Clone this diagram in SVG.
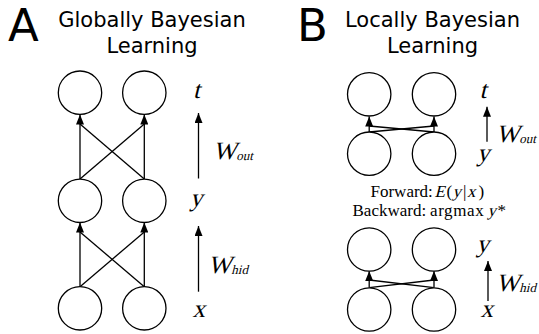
<svg xmlns="http://www.w3.org/2000/svg" width="539" height="334" viewBox="0 0 539 334">
<defs>
<marker id="ah" markerWidth="10" markerHeight="8" refX="10" refY="4" orient="auto" markerUnits="userSpaceOnUse">
<path d="M0,0 L10,4 L0,8 Z" fill="#000"/>
</marker>
<style>
.n{fill:#fff;stroke:#000;stroke-width:1.3}
.c line{stroke:#000;stroke-width:1.3}
.a{marker-end:url(#ah)}
.ttl{font-family:"DejaVu Sans",sans-serif;font-size:21px;fill:#000}
.big{font-family:"DejaVu Sans",sans-serif;font-size:45px;fill:#000}
.m{font-family:"Liberation Serif",serif;font-size:25px;fill:#000}
.s{font-size:13px}
.f{font-family:"Liberation Serif",serif;font-size:17px;fill:#000}
</style>
</defs>
<rect width="539" height="334" fill="#fff"/>
<g id="titleA">
<text class="big" x="8" y="41">A</text>
<text class="ttl" x="152" y="27" text-anchor="middle">Globally Bayesian</text>
<text class="ttl" x="152" y="53" text-anchor="middle">Learning</text>
</g>
<g id="titleB">
<text class="big" x="297" y="41">B</text>
<text class="ttl" x="432.5" y="27" text-anchor="middle">Locally Bayesian</text>
<text class="ttl" x="432.5" y="53" text-anchor="middle">Learning</text>
</g>
<g class="c" id="connectors">
<line class="a" x1="80" y1="179" x2="80" y2="114.5"/>
<line class="a" x1="144.3" y1="179" x2="144.3" y2="114.5"/>
<line x1="80" y1="179" x2="144.3" y2="124"/>
<line x1="144.3" y1="179" x2="80" y2="124"/>
<line class="a" x1="80" y1="286.7" x2="80" y2="222.5"/>
<line class="a" x1="144.3" y1="286.7" x2="144.3" y2="222.5"/>
<line x1="80" y1="286.7" x2="144.3" y2="232"/>
<line x1="144.3" y1="286.7" x2="80" y2="232"/>
<line class="a" x1="198.5" y1="178.5" x2="198.5" y2="113"/>
<line class="a" x1="198.5" y1="291.7" x2="198.5" y2="226"/>
<line class="a" x1="369.2" y1="132" x2="369.2" y2="116.5"/>
<line class="a" x1="434" y1="132" x2="434" y2="116.5"/>
<line x1="369.2" y1="132" x2="434" y2="126"/>
<line x1="434" y1="132" x2="369.2" y2="126"/>
<line class="a" x1="487" y1="141.7" x2="487" y2="106.7"/>
<line class="a" x1="369.2" y1="287.7" x2="369.2" y2="271"/>
<line class="a" x1="434" y1="287.7" x2="434" y2="271"/>
<line x1="369.2" y1="287.7" x2="434" y2="280"/>
<line x1="434" y1="287.7" x2="369.2" y2="280"/>
<line class="a" x1="488" y1="301" x2="488" y2="261"/>
</g>
<g id="A_t1"><circle class="n" cx="80" cy="92.7" r="21.7"/></g>
<g id="A_t2"><circle class="n" cx="144.3" cy="92.7" r="21.7"/></g>
<g id="A_y1"><circle class="n" cx="80" cy="200.8" r="21.7"/></g>
<g id="A_y2"><circle class="n" cx="144.3" cy="200.8" r="21.7"/></g>
<g id="A_x1"><circle class="n" cx="80" cy="308.3" r="21.7"/></g>
<g id="A_x2"><circle class="n" cx="144.3" cy="308.3" r="21.7"/></g>
<g id="B_t1"><circle class="n" cx="369.2" cy="94.3" r="21.7"/></g>
<g id="B_t2"><circle class="n" cx="434" cy="94.3" r="21.7"/></g>
<g id="B_y1"><circle class="n" cx="369.2" cy="153.7" r="21.7"/></g>
<g id="B_y2"><circle class="n" cx="434" cy="153.7" r="21.7"/></g>
<g id="B_y3"><circle class="n" cx="369.2" cy="249.5" r="21.7"/></g>
<g id="B_y4"><circle class="n" cx="434" cy="249.5" r="21.7"/></g>
<g id="B_x1"><circle class="n" cx="369.2" cy="309.5" r="21.7"/></g>
<g id="B_x2"><circle class="n" cx="434" cy="309.5" r="21.7"/></g>
<g id="labels">
<text class="m" transform="translate(193,98.3) skewX(-14)">t</text>
<text class="m" transform="translate(213,159.3) skewX(-14)">W<tspan class="s" dy="1">out</tspan></text>
<text class="m" transform="translate(190,205.5) skewX(-14)">y</text>
<text class="m" transform="translate(208,273.3) skewX(-14)">W<tspan class="s" dy="1">hid</tspan></text>
<text class="m" transform="translate(192.5,316.7) skewX(-14)">x</text>
<text class="m" transform="translate(479.5,98.3) skewX(-14)">t</text>
<text class="m" transform="translate(496,141.7) skewX(-14)">W<tspan class="s" dy="1">out</tspan></text>
<text class="m" transform="translate(477,161.3) skewX(-14)">y</text>
<text class="m" transform="translate(476.5,252) skewX(-14)">y</text>
<text class="m" transform="translate(496,291) skewX(-14)">W<tspan class="s" dy="1">hid</tspan></text>
<text class="m" transform="translate(480.5,316.7) skewX(-14)">x</text>
</g>
<g id="note">
<text class="f" x="370.5" y="197">Forward:</text>
<text class="f" transform="translate(434.5,197) skewX(-14)">E</text>
<text class="f" x="446.5" y="197">(</text>
<text class="f" transform="translate(452.5,197) skewX(-14)">y</text>
<text class="f" x="463" y="197">|</text>
<text class="f" transform="translate(467,197) skewX(-14)">x</text>
<text class="f" x="478.5" y="197">)</text>
<text class="f" x="352.5" y="216.3">Backward:</text>
<text class="f" x="430" y="216.3" letter-spacing="0.6">argmax</text>
<text class="f" transform="translate(487.5,216.3) skewX(-14)">y</text>
<text class="f" x="497.5" y="216.3">*</text>
</g>
</svg>
